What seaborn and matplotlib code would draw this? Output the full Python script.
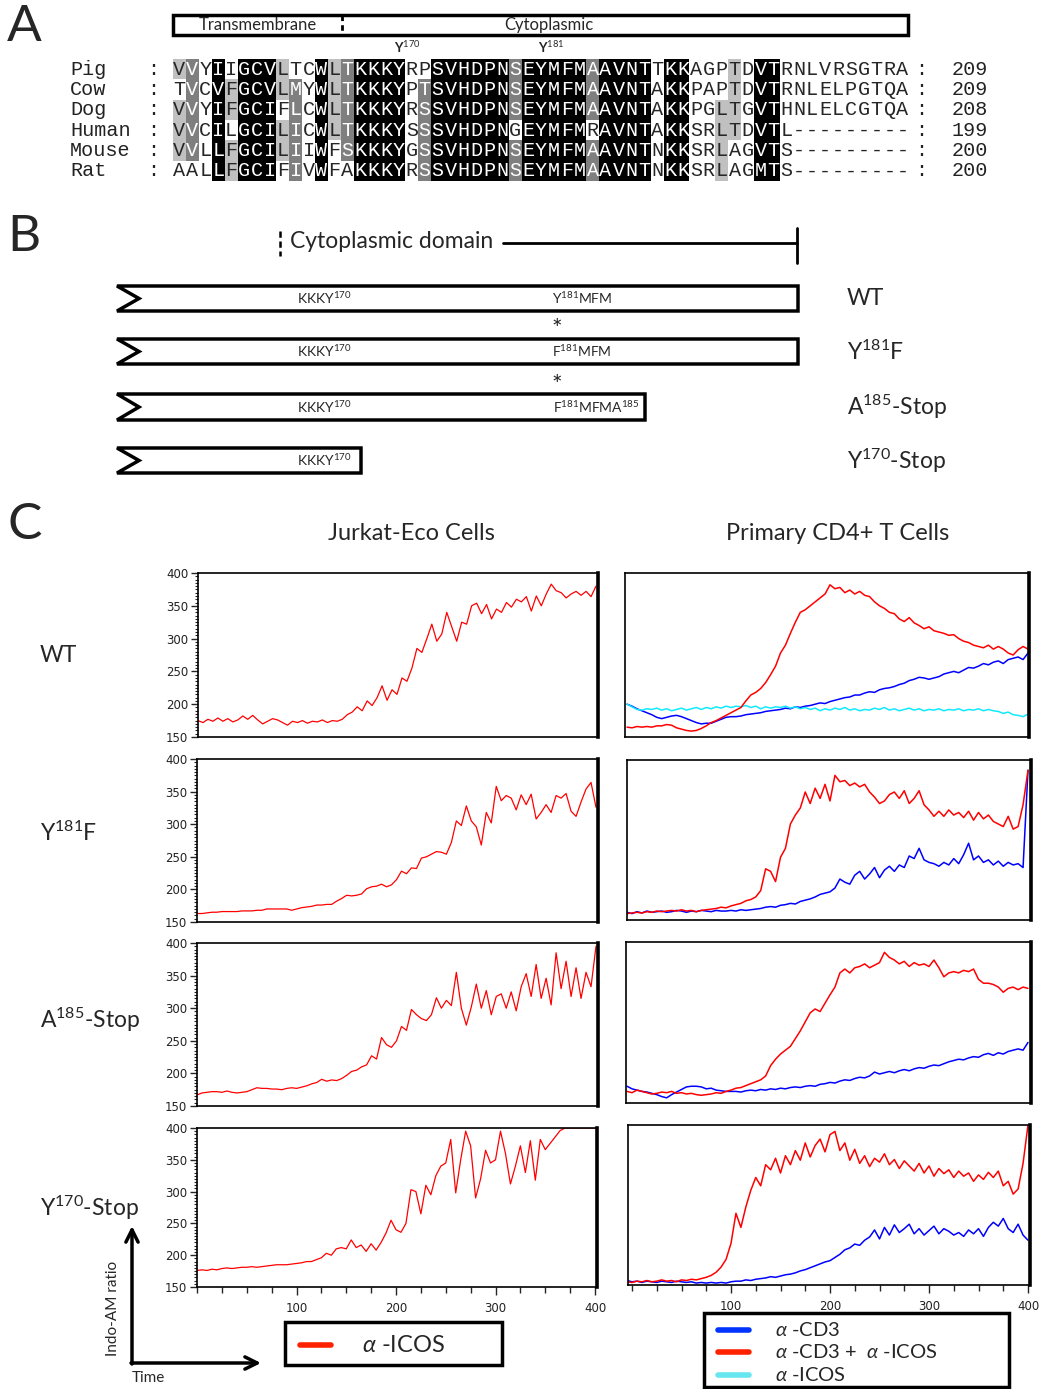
import numpy as np
import seaborn as sns
import matplotlib.pyplot as plt
from matplotlib.colors import ListedColormap
from matplotlib.patches import Polygon, Rectangle
from matplotlib.ticker import MultipleLocator, FixedLocator

# -----------------------------------------------------------
# Panel A: ICOS alignment
# -----------------------------------------------------------
species = ["Pig", "Cow", "Dog", "Human", "Mouse", "Rat"]
sequences = [
    "VVYIIGCVLTCWLTKKKYRPSVHDPNSEYMFMAAVNTTKKAGPTDVTRNLVRSGTRA",
    "TVCVFGCVLMYWLTKKKYPTSVHDPNSEYMFMAAVNTAKKPAPTDVTRNLELPGTQA",
    "VVYIFGCIFLCWLTKKKYRSSVHDPNSEYMFMAAVNTAKKPGLTGVTHNLELCGTQA",
    "VVCILGCILICWLTKKKYSSSVHDPNGEYMFMRAVNTAKKSRLTDVTL---------",
    "VVLLFGCILIIWFSKKKYGSSVHDPNSEYMFMAAVNTNKKSRLAGVTS---------",
    "AALLFGCIFIVWFAKKKYRSSVHDPNSEYMFMAAVNTNKKSRLAGMTS---------",
]
seq_ends = [209, 209, 208, 199, 200, 200]

# -----------------------------------------------------------
# Panel B: constructs
# -----------------------------------------------------------
constructs = ["WT", "Y$^{181}$F", "A$^{185}$-Stop", "Y$^{170}$-Stop"]
motifs = [
    ["KKKY$^{170}$", "Y$^{181}$MFM"],
    ["KKKY$^{170}$", "F$^{181}$MFM"],
    ["KKKY$^{170}$", "F$^{181}$MFMA$^{185}$"],
    ["KKKY$^{170}$"],
]

# -----------------------------------------------------------
# Panel C: Indo-AM ratio traces
# -----------------------------------------------------------
t_jurkat = list(range(0, 401, 5))
t_primary = list(range(-5, 401, 5))

wt_jurkat = [
    175, 172, 177, 174, 179, 174, 178, 173, 176, 182,
    177, 183, 176, 170, 174, 178, 176, 172, 168, 174,
    172, 175, 171, 174, 173, 176, 172, 175, 174, 177,
    184, 188, 196, 190, 205, 198, 210, 228, 206, 222,
    215, 240, 235, 255, 285, 279, 300, 322, 296, 307,
    340, 318, 296, 325, 322, 350, 354, 338, 352, 330,
    345, 340, 355, 348, 360, 356, 364, 342, 365, 350,
    368, 383, 373, 370, 362, 368, 372, 366, 372, 364,
    380]
y181f_jurkat = [
    163, 163, 164, 165, 165, 166, 166, 166, 166, 167,
    167, 167, 168, 168, 170, 170, 170, 170, 170, 168,
    170, 172, 173, 174, 176, 176, 177, 177, 182, 186,
    191, 190, 191, 193, 201, 204, 205, 208, 204, 207,
    215, 228, 224, 233, 232, 248, 250, 254, 258, 257,
    254, 272, 305, 298, 328, 305, 296, 268, 318, 302,
    358, 336, 344, 340, 322, 345, 330, 346, 308, 318,
    330, 318, 344, 340, 347, 320, 312, 334, 354, 364,
    326]
a185_jurkat = [
    167, 170, 171, 172, 172, 171, 173, 171, 170, 171,
    172, 175, 178, 177, 177, 176, 176, 175, 177, 178,
    177, 179, 181, 184, 186, 191, 188, 190, 189, 192,
    197, 203, 205, 210, 213, 227, 222, 255, 244, 240,
    250, 272, 266, 298, 290, 284, 281, 290, 316, 300,
    312, 304, 355, 300, 274, 302, 337, 300, 327, 290,
    318, 322, 300, 325, 296, 333, 353, 318, 367, 315,
    346, 305, 385, 330, 372, 318, 362, 315, 355, 333,
    395]
y170_jurkat = [
    176, 177, 176, 178, 177, 179, 180, 179, 180, 181,
    181, 182, 181, 182, 183, 184, 185, 185, 185, 186,
    187, 188, 190, 190, 193, 196, 203, 200, 210, 212,
    210, 224, 212, 216, 206, 218, 208, 220, 235, 255,
    240, 236, 250, 303, 300, 265, 310, 295, 325, 340,
    345, 382, 298, 350, 395, 372, 290, 320, 365, 345,
    350, 395, 360, 312, 340, 372, 330, 380, 318, 382,
    366, 376, 386, 396, 400, 400, 400, 400, 400, 400,
    400]

wt_cd3icos = [
    165, 164, 166, 165, 166, 165, 167, 167, 169, 168,
    164, 162, 160, 159, 160, 163, 167, 172, 175, 179,
    183, 187, 191, 195, 205, 214, 218, 224, 233, 245,
    258, 278, 290, 308, 325, 340, 344, 350, 356, 362,
    368, 382, 376, 378, 370, 374, 368, 372, 366, 364,
    356, 350, 346, 340, 338, 330, 326, 332, 324, 320,
    315, 318, 312, 310, 308, 305, 306, 300, 296, 294,
    290, 288, 286, 290, 284, 288, 284, 278, 275, 283,
    288, 284]
wt_cd3 = [
    200, 197, 193, 190, 187, 184, 180, 178, 180, 182,
    183, 181, 178, 175, 172, 170, 171, 171, 174, 177,
    180, 181, 181, 182, 184, 185, 186, 187, 189, 190,
    191, 192, 194, 193, 196, 195, 197, 198, 200, 202,
    201, 204, 206, 208, 210, 211, 214, 214, 217, 219,
    218, 222, 224, 225, 227, 230, 232, 236, 238, 241,
    240, 238, 240, 242, 246, 248, 250, 248, 252, 256,
    255, 258, 262, 260, 264, 266, 262, 268, 270, 272,
    268, 278]
wt_icos = [
    200, 196, 192, 191, 193, 192, 194, 191, 193, 190,
    192, 194, 191, 193, 195, 192, 195, 193, 196, 194,
    197, 195, 197, 196, 198, 195, 197, 193, 196, 194,
    196, 195, 197, 194, 196, 193, 195, 192, 194, 190,
    193, 191, 194, 192, 195, 191, 193, 190, 192, 191,
    194, 192, 195, 191, 193, 190, 192, 194, 191, 193,
    190, 192, 191, 193, 190, 192, 191, 193, 190, 192,
    191, 193, 190, 192, 190, 189, 186, 188, 184, 183,
    181, 185]
y181f_cd3icos = [
    160, 161, 162, 161, 163, 162, 164, 163, 164, 165,
    164, 166, 164, 165, 163, 165, 166, 167, 168, 170,
    169, 172, 174, 176, 180, 182, 186, 196, 230, 226,
    210, 248, 262, 300, 314, 325, 350, 332, 356, 340,
    362, 336, 376, 366, 368, 360, 364, 358, 362, 350,
    342, 332, 336, 346, 350, 340, 352, 332, 340, 352,
    330, 322, 312, 320, 312, 322, 314, 318, 310, 320,
    306, 318, 308, 314, 304, 300, 296, 312, 292, 296,
    330, 384]
y181f_cd3 = [
    162, 160, 163, 161, 164, 162, 163, 164, 162, 163,
    165, 164, 162, 164, 163, 165, 164, 163, 165, 164,
    164, 165, 164, 166, 165, 166, 167, 168, 170, 171,
    170, 173, 174, 176, 175, 179, 181, 183, 186, 190,
    192, 194, 200, 214, 209, 206, 220, 226, 214, 222,
    232, 216, 228, 234, 226, 236, 232, 250, 246, 262,
    244, 240, 238, 234, 240, 236, 246, 238, 252, 270,
    244, 250, 240, 244, 236, 242, 234, 240, 236, 238,
    232, 384]
a185_cd3icos = [
    168, 166, 170, 168, 166, 164, 165, 167, 166, 168,
    165, 166, 164, 165, 163, 162, 163, 164, 166, 165,
    168, 170, 173, 174, 177, 180, 183, 186, 192, 208,
    218, 226, 232, 238, 250, 262, 276, 290, 296, 292,
    305, 318, 330, 352, 358, 352, 360, 362, 366, 360,
    364, 368, 384, 376, 372, 366, 370, 362, 368, 364,
    366, 362, 372, 360, 346, 352, 354, 352, 356, 354,
    358, 342, 336, 336, 334, 330, 322, 328, 330, 326,
    330, 328]
a185_cd3 = [
    176, 172, 170, 168, 167, 165, 163, 160, 158, 163,
    167, 171, 175, 176, 176, 175, 172, 173, 170, 169,
    168, 168, 168, 167, 169, 170, 169, 171, 170, 172,
    171, 173, 172, 174, 175, 174, 176, 177, 176, 179,
    180, 182, 181, 184, 186, 185, 188, 190, 189, 192,
    198, 195, 197, 199, 197, 200, 202, 200, 203, 205,
    204, 207, 209, 208, 211, 214, 216, 218, 217, 220,
    222, 221, 225, 227, 224, 228, 226, 230, 232, 234,
    232, 244]
y170_cd3icos = [
    155, 154, 156, 155, 157, 155, 156, 158, 156, 157,
    155, 158, 157, 159, 158, 160, 162, 165, 170, 178,
    190, 215, 262, 240, 272, 298, 318, 305, 338, 330,
    348, 325, 352, 338, 360, 345, 372, 350, 368, 378,
    358, 385, 390, 360, 372, 345, 362, 340, 352, 335,
    348, 342, 355, 338, 346, 332, 344, 336, 328, 340,
    325, 336, 320, 332, 324, 330, 318, 328, 320, 325,
    312, 322, 315, 326, 318, 328, 305, 312, 292, 300,
    340, 400]
y170_cd3 = [
    157, 155, 156, 154, 156, 155, 154, 156, 155, 154,
    156, 155, 154, 155, 153, 154, 153, 154, 153, 154,
    153, 155, 156, 156, 158, 157, 159, 160, 161, 163,
    162, 164, 166, 167, 169, 172, 174, 177, 180, 183,
    186, 188, 193, 198, 205, 208, 214, 212, 220, 225,
    236, 222, 240, 228, 244, 232, 238, 245, 230, 238,
    228, 235, 242, 230, 238, 234, 228, 232, 226, 236,
    230, 238, 226, 240, 248, 242, 254, 238, 232, 245,
    228, 220]

RED, BLUE, CYAN = "#ff0000", "#0000ff", "#10eaff"

# -----------------------------------------------------------
# Figure setup
# -----------------------------------------------------------
sns.set_style("white")
plt.rcParams["font.family"] = ["Lato", "DejaVu Sans"]
plt.rcParams["mathtext.fontset"] = "custom"
plt.rcParams["mathtext.rm"] = "Lato"
plt.rcParams["mathtext.it"] = "Lato:italic"
plt.rcParams["mathtext.bf"] = "Lato:bold"

W, H = 1043, 1389
fig = plt.figure(figsize=(W / 100, H / 100), dpi=100)


def box(l, t, r, b):
    # axes placed by pixel edges (top-left origin)
    return fig.add_axes([l / W, 1 - b / H, (r - l) / W, (b - t) / H])


ov = box(0, 0, W, H)
ov.set_xlim(0, W)
ov.set_ylim(H, 0)
ov.axis("off")

for letter, y in zip("ABC", [27, 237, 525]):
    ov.text(7, y, letter, fontsize=37, va="center", ha="left")

# --- Panel A ---
similar = {"I": "h", "L": "h", "V": "h", "M": "h", "F": "f", "Y": "f", "W": "f",
           "S": "s", "T": "s", "K": "k", "R": "k", "D": "d", "E": "d", "N": "n", "Q": "n"}
classes = [[similar.get(c, c) for c in s] for s in sequences]
levels = np.zeros((len(sequences), len(sequences[0])), dtype=int)
for j in range(levels.shape[1]):
    col = [row[j] for row in classes]
    best = max(set(col) - {"-"}, key=col.count)
    lvl = {6: 3, 5: 2, 4: 1}.get(col.count(best), 0)
    for i, c in enumerate(col):
        if c == best:
            levels[i, j] = lvl

axA = box(173, 59, 909, 181)
sns.heatmap(levels, ax=axA, cmap=ListedColormap(["white", "#c0c0c0", "#7f7f7f", "black"]),
            vmin=0, vmax=3, cbar=False, annot=np.array([list(s) for s in sequences]), fmt="",
            xticklabels=False, yticklabels=False,
            annot_kws={"fontsize": 14.5, "family": "Liberation Mono"})

mono = dict(family="Liberation Mono", fontsize=14.5, va="center", color="#222222")
for i, (name, end) in enumerate(zip(species, seq_ends)):
    y = 59 + (i + 0.5) * 122 / 6
    ov.text(70, y, name, ha="left", **mono)
    ov.text(153, y, ":", ha="center", **mono)
    ov.text(921, y, ":", ha="center", **mono)
    ov.text(952, y, str(end), ha="left", **mono)

ov.add_patch(Rectangle((173, 15), 735, 20, fill=False, lw=2.5, ec="black"))
ov.plot([342, 342], [15, 35], color="black", lw=2, ls=(0, (2, 1.5)))
ov.text(258, 25, "Transmembrane", fontsize=12, ha="center", va="center")
ov.text(549, 25, "Cytoplasmic", fontsize=12, ha="center", va="center")
ov.text(407, 47, "Y$^{170}$", fontsize=9.5, ha="center", va="center", fontweight="bold")
ov.text(551, 47, "Y$^{181}$", fontsize=9.5, ha="center", va="center", fontweight="bold")

# --- Panel B ---
ov.plot([280, 280], [231, 256], color="black", lw=1.8, ls=(0, (2.5, 1.5)))
ov.text(290, 242, "Cytoplasmic domain", fontsize=16.5, ha="left", va="center")
ov.plot([503, 797], [243, 243], color="black", lw=2)
ov.plot([797, 797], [228, 263], color="black", lw=2)

bar_rows = [(286, 311, 798), (339, 364, 798), (394, 420, 645), (448, 473, 361)]
motif_x = [[324, 582], [324, 582], [324, 596], [324]]
for (top, bot, right), label, mots, mx in zip(bar_rows, constructs, motifs, motif_x):
    mid = (top + bot) / 2
    ov.add_patch(Polygon([(117, top), (right, top), (right, bot), (117, bot), (139, mid)],
                         closed=True, fill=False, lw=2.5, ec="black", joinstyle="miter"))
    for txt, x in zip(mots, mx):
        ov.text(x, mid, txt, fontsize=10, ha="center", va="center")
    ov.text(847, mid, label, fontsize=16.5, ha="left", va="center")
for y in (330, 385):
    ov.text(557, y, "*", fontsize=18, ha="center", va="center")

# --- Panel C ---
ov.text(411, 534, "Jurkat-Eco Cells", fontsize=17, ha="center", va="center")
ov.text(838, 534, "Primary CD4+ T Cells", fontsize=17, ha="center", va="center")
for label, y in zip(constructs, [656, 833, 1020, 1208]):
    ov.text(40, y, label, fontsize=16.5, ha="left", va="center")

left_boxes = [(198, 573, 598, 737), (197, 759, 598, 922), (197, 943, 598, 1106), (197, 1128, 597, 1287)]
right_boxes = [(625, 573, 1029, 737), (627, 760, 1031, 920), (626, 942, 1031, 1103), (628, 1125, 1030, 1285)]
jurkat = [wt_jurkat, y181f_jurkat, a185_jurkat, y170_jurkat]
primary = [
    [(wt_cd3, BLUE), (wt_icos, CYAN), (wt_cd3icos, RED)],
    [(y181f_cd3, BLUE), (y181f_cd3icos, RED)],
    [(a185_cd3, BLUE), (a185_cd3icos, RED)],
    [(y170_cd3, BLUE), (y170_cd3icos, RED)],
]


def frame(ax, bottom):
    ax.set_ylim(150, 400)
    ax.set_xlabel("")
    ax.set_ylabel("")
    for s in ax.spines.values():
        s.set_visible(True)
        s.set_color("black")
        s.set_linewidth(1.2)
    ax.spines["right"].set_linewidth(2.6)
    if bottom:
        ax.xaxis.set_major_locator(FixedLocator([100, 200, 300, 400]))
        ax.xaxis.set_minor_locator(MultipleLocator(25))
        ax.tick_params(axis="x", which="major", bottom=True, direction="out", length=6,
                       width=1, labelsize=8.5, labelfontfamily="DejaVu Sans",
                       labelcolor="#222222", pad=5)
        ax.tick_params(axis="x", which="minor", bottom=True, direction="out", length=4, width=1)
    else:
        ax.set_xticks([])


for i, (l, t, r, b) in enumerate(left_boxes):
    ax = box(l, t, r, b)
    sns.lineplot(x=t_jurkat, y=jurkat[i], ax=ax, color=RED, lw=0.9)
    ax.set_xlim(0, 402)
    frame(ax, i == 3)
    ax.yaxis.set_major_locator(MultipleLocator(50))
    ax.yaxis.set_minor_locator(MultipleLocator(5))
    ax.tick_params(axis="y", which="major", left=True, direction="out", length=5, width=1,
                   labelsize=8.5, labelfontfamily="DejaVu Sans", labelcolor="#222222", pad=2)
    ax.tick_params(axis="y", which="minor", left=True, direction="out", length=2.5, width=0.8)

for i, (l, t, r, b) in enumerate(right_boxes):
    ax = box(l, t, r, b)
    for vals, color in primary[i]:
        sns.lineplot(x=t_primary, y=vals, ax=ax, color=color, lw=1.1)
    ax.set_xlim((l - 632) / 0.99, (r - 632) / 0.99)
    frame(ax, i == 3)
    ax.set_yticks([])

# legends
ov.add_patch(Rectangle((285, 1322), 217, 43, fill=False, lw=2.5, ec="black"))
ov.plot([300, 331], [1345, 1345], color="#ff2200", lw=4)
ov.text(362, 1345, r"$\alpha$ -ICOS", fontsize=17, ha="left", va="center")

ov.add_patch(Rectangle((704, 1313), 305, 74, fill=False, lw=2.5, ec="black"))
for y, color, txt in zip([1330, 1352, 1375], ["#0033ff", "#ff2200", "#66e6ee"],
                         [r"$\alpha$ -CD3", r"$\alpha$ -CD3 +  $\alpha$ -ICOS", r"$\alpha$ -ICOS"]):
    ov.plot([718, 749], [y, y], color=color, lw=4)
    ov.text(775, y, txt, fontsize=14.5, ha="left", va="center")

# axis key arrows
ov.annotate("", xy=(132, 1226), xytext=(132, 1364),
            arrowprops=dict(arrowstyle="->", lw=2.5, color="black", mutation_scale=22, shrinkA=0, shrinkB=0))
ov.annotate("", xy=(261, 1363), xytext=(131, 1363),
            arrowprops=dict(arrowstyle="->", lw=2.5, color="black", mutation_scale=22, shrinkA=0, shrinkB=0))
ov.text(113, 1308, "Indo-AM ratio", fontsize=11, rotation=90, ha="center", va="center")
ov.text(148, 1378, "Time", fontsize=11, ha="center", va="center")

fig.savefig("out.png", dpi=100)
plt.close(fig)
